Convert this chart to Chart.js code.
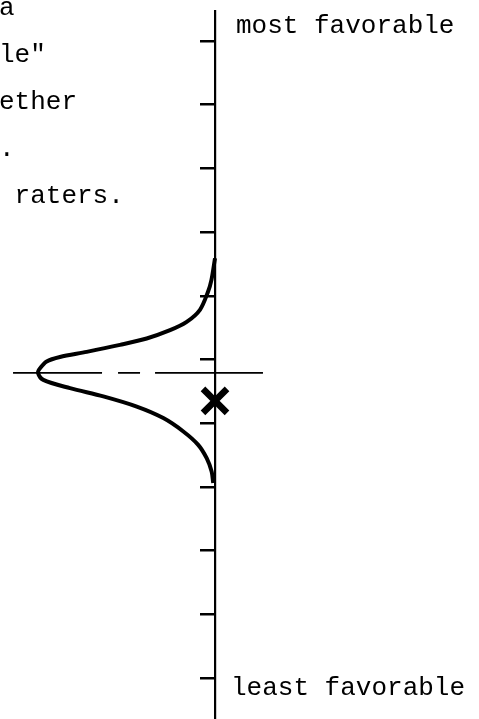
<!DOCTYPE html>
<html>
<head>
<meta charset="utf-8">
<script src="https://cdn.jsdelivr.net/npm/chart.js@4"></script>
<style>
  html, body { margin: 0; padding: 0; background: #fff; }
  #wrap { position: relative; width: 479px; height: 719px; overflow: hidden; }
  #wrap canvas { position: absolute; left: 0; top: 0; }
  .t { position: absolute; font-family: "Liberation Mono", "DejaVu Sans Mono", monospace; font-size: 26px; line-height: 26px; color: #000; white-space: pre; }
</style>
</head>
<body>
<div id="wrap">
  <canvas id="c"></canvas>
  <div class="t" style="left:-1px;top:-5px">a</div>
  <div class="t" style="left:-1px;top:42px">le"</div>
  <div class="t" style="left:-1px;top:89px">ether</div>
  <div class="t" style="left:-1px;top:136px">.</div>
  <div class="t" style="left:-1px;top:183px"> raters.</div>
  <div class="t" style="left:236px;top:13px">most favorable</div>
  <div class="t" style="left:231px;top:675px">least favorable</div>
</div>
<script>
// Rating scale: tick positions (0 = least favorable, 10 = most favorable)
const tickValues = [0, 1, 2, 3, 4, 5, 6, 7, 8, 9, 10];

// Distribution of ratings (drawn sideways): scale value and relative density
const curveValue   = [6.59, 6.25, 6.06, 5.78, 5.59, 5.46, 5.33, 5.23, 5.12, 5.04, 4.97, 4.86, 4.79,
                      4.68, 4.55, 4.42, 4.26, 4.08, 3.87, 3.66, 3.45, 3.24, 3.06];
const curveDensity = [0.00, 0.02, 0.04, 0.085, 0.16, 0.254, 0.386, 0.537, 0.725, 0.876, 0.951, 0.989, 1.00,
                      0.970, 0.819, 0.631, 0.442, 0.292, 0.179, 0.095, 0.047, 0.019, 0.01];

// Mean of the raters (dashed line) and the individual rating (X)
const meanValue = 4.79;
const meanLineX = [1.141, -0.271];
const markerValue = 4.35;
const markerX = 0;

const curveData = curveValue.map((v, i) => ({ x: curveDensity[i], y: v }));
const meanData = meanLineX.map(x => ({ x: x, y: meanValue }));

new Chart(document.getElementById('c'), {
  type: 'scatter',
  data: {
    datasets: [
      {
        label: 'distribution',
        data: curveData,
        showLine: true,
        borderColor: '#000',
        borderWidth: 4,
        pointRadius: 0,
        tension: 0.3,
        fill: false
      },
      {
        label: 'mean',
        data: meanData,
        showLine: true,
        borderColor: '#000',
        borderWidth: 1.6,
        borderDash: [89, 16, 22, 15, 400],
        pointRadius: 0
      },
      {
        label: 'rating',
        data: [{ x: markerX, y: markerValue }],
        pointStyle: 'crossRot',
        pointRadius: 17,
        pointBorderWidth: 6.5,
        borderColor: '#000',
        backgroundColor: '#000'
      }
    ]
  },
  options: {
    responsive: true,
    maintainAspectRatio: false,
    animation: false,
    events: [],
    layout: { autoPadding: false, padding: { top: 11, left: 0, right: 0, bottom: 0 } },
    plugins: { legend: { display: false }, tooltip: { enabled: false }, title: { display: false } },
    scales: {
      x: {
        type: 'linear',
        display: false,
        reverse: true,
        min: -1.4915,
        max: 1.2147
      },
      y: {
        type: 'linear',
        position: { x: 0 },
        min: -0.644,
        max: 10.471,
        afterBuildTicks: (scale) => { scale.ticks = tickValues.map(v => ({ value: v })); },
        ticks: { display: false },
        grid: { drawOnChartArea: false, drawTicks: true, tickLength: 14, lineWidth: 2.5, color: '#000' },
        border: { display: true, width: 2.2, color: '#000' }
      }
    }
  }
});
</script>
</body>
</html>
